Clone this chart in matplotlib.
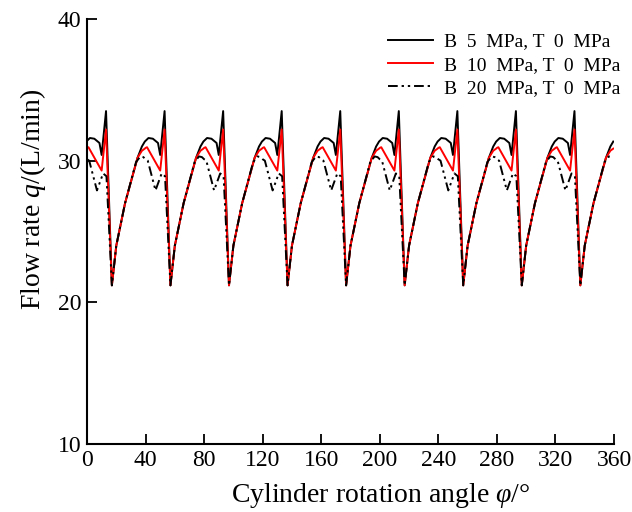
import matplotlib
matplotlib.use("Agg")
import matplotlib.pyplot as plt

plt.rcParams['font.family'] = ['Liberation Serif', 'DejaVu Serif']
plt.rcParams['mathtext.fontset'] = 'custom'
plt.rcParams['mathtext.rm'] = 'Liberation Serif'
plt.rcParams['mathtext.it'] = 'Liberation Serif:italic'

# ---- data ----
x_b5 = [0, 2, 5, 8.5, 10, 13, 17, 20, 26, 34.5, 37.5, 39.5,
        40, 42, 45, 48.5, 50, 53, 57, 60, 66, 74.5, 77.5, 79.5,
        80, 82, 85, 88.5, 90, 93, 97, 100, 106, 114.5, 117.5, 119.5,
        120, 122, 125, 128.5, 130, 133, 137, 140, 146, 154.5, 157.5, 159.5,
        160, 162, 165, 168.5, 170, 173, 177, 180, 186, 194.5, 197.5, 199.5,
        200, 202, 205, 208.5, 210, 213, 217, 220, 226, 234.5, 237.5, 239.5,
        240, 242, 245, 248.5, 250, 253, 257, 260, 266, 274.5, 277.5, 279.5,
        280, 282, 285, 288.5, 290, 293, 297, 300, 306, 314.5, 317.5, 319.5,
        320, 322, 325, 328.5, 330, 333, 337, 340, 346, 354.5, 357.5, 359.5]
y_b5 = [31.4, 31.6, 31.55, 31.25, 30.4, 33.5, 21.2, 24.0, 27.0, 30.2, 31.0, 31.35,
        31.4, 31.6, 31.55, 31.25, 30.4, 33.5, 21.2, 24.0, 27.0, 30.2, 31.0, 31.35,
        31.4, 31.6, 31.55, 31.25, 30.4, 33.5, 21.2, 24.0, 27.0, 30.2, 31.0, 31.35,
        31.4, 31.6, 31.55, 31.25, 30.4, 33.5, 21.2, 24.0, 27.0, 30.2, 31.0, 31.35,
        31.4, 31.6, 31.55, 31.25, 30.4, 33.5, 21.2, 24.0, 27.0, 30.2, 31.0, 31.35,
        31.4, 31.6, 31.55, 31.25, 30.4, 33.5, 21.2, 24.0, 27.0, 30.2, 31.0, 31.35,
        31.4, 31.6, 31.55, 31.25, 30.4, 33.5, 21.2, 24.0, 27.0, 30.2, 31.0, 31.35,
        31.4, 31.6, 31.55, 31.25, 30.4, 33.5, 21.2, 24.0, 27.0, 30.2, 31.0, 31.35,
        31.4, 31.6, 31.55, 31.25, 30.4, 33.5, 21.2, 24.0, 27.0, 30.2, 31.0, 31.35]

x_b10 = [0, 1, 10, 13, 17, 20, 26, 34.5, 37.5, 39.5,
         40, 41, 50, 53, 57, 60, 66, 74.5, 77.5, 79.5,
         80, 81, 90, 93, 97, 100, 106, 114.5, 117.5, 119.5,
         120, 121, 130, 133, 137, 140, 146, 154.5, 157.5, 159.5,
         160, 161, 170, 173, 177, 180, 186, 194.5, 197.5, 199.5,
         200, 201, 210, 213, 217, 220, 226, 234.5, 237.5, 239.5,
         240, 241, 250, 253, 257, 260, 266, 274.5, 277.5, 279.5,
         280, 281, 290, 293, 297, 300, 306, 314.5, 317.5, 319.5,
         320, 321, 330, 333, 337, 340, 346, 354.5, 357.5, 359.5]
y_b10 = [30.9, 30.95, 29.3, 32.2, 21.2, 24.0, 27.0, 30.2, 30.7, 30.85,
         30.9, 30.95, 29.3, 32.2, 21.2, 24.0, 27.0, 30.2, 30.7, 30.85,
         30.9, 30.95, 29.3, 32.2, 21.2, 24.0, 27.0, 30.2, 30.7, 30.85,
         30.9, 30.95, 29.3, 32.2, 21.2, 24.0, 27.0, 30.2, 30.7, 30.85,
         30.9, 30.95, 29.3, 32.2, 21.2, 24.0, 27.0, 30.2, 30.7, 30.85,
         30.9, 30.95, 29.3, 32.2, 21.2, 24.0, 27.0, 30.2, 30.7, 30.85,
         30.9, 30.95, 29.3, 32.2, 21.2, 24.0, 27.0, 30.2, 30.7, 30.85,
         30.9, 30.95, 29.3, 32.2, 21.2, 24.0, 27.0, 30.2, 30.7, 30.85,
         30.9, 30.95, 29.3, 32.2, 21.2, 24.0, 27.0, 30.2, 30.7, 30.85]

x_b20 = [0, 1.5, 6.8, 11, 13.3, 17, 20, 26, 33.5, 36.5, 38.5,
         40, 41.5, 46.8, 51, 53.3, 57, 60, 66, 73.5, 76.5, 78.5,
         80, 81.5, 86.8, 91, 93.3, 97, 100, 106, 113.5, 116.5, 118.5,
         120, 121.5, 126.8, 131, 133.3, 137, 140, 146, 153.5, 156.5, 158.5,
         160, 161.5, 166.8, 171, 173.3, 177, 180, 186, 193.5, 196.5, 198.5,
         200, 201.5, 206.8, 211, 213.3, 217, 220, 226, 233.5, 236.5, 238.5,
         240, 241.5, 246.8, 251, 253.3, 257, 260, 266, 273.5, 276.5, 278.5,
         280, 281.5, 286.8, 291, 293.3, 297, 300, 306, 313.5, 316.5, 318.5,
         320, 321.5, 326.8, 331, 333.3, 337, 340, 346, 353.5, 356.5, 358.5]
y_b20 = [30.1, 30.0, 27.9, 29.1, 28.9, 21.2, 24.0, 27.0, 29.9, 30.3, 30.25,
         30.1, 30.0, 27.9, 29.1, 28.9, 21.2, 24.0, 27.0, 29.9, 30.3, 30.25,
         30.1, 30.0, 27.9, 29.1, 28.9, 21.2, 24.0, 27.0, 29.9, 30.3, 30.25,
         30.1, 30.0, 27.9, 29.1, 28.9, 21.2, 24.0, 27.0, 29.9, 30.3, 30.25,
         30.1, 30.0, 27.9, 29.1, 28.9, 21.2, 24.0, 27.0, 29.9, 30.3, 30.25,
         30.1, 30.0, 27.9, 29.1, 28.9, 21.2, 24.0, 27.0, 29.9, 30.3, 30.25,
         30.1, 30.0, 27.9, 29.1, 28.9, 21.2, 24.0, 27.0, 29.9, 30.3, 30.25,
         30.1, 30.0, 27.9, 29.1, 28.9, 21.2, 24.0, 27.0, 29.9, 30.3, 30.25,
         30.1, 30.0, 27.9, 29.1, 28.9, 21.2, 24.0, 27.0, 29.9, 30.3, 30.25]

labels = ["B  5  MPa, T  0  MPa", "B  10  MPa, T  0  MPa", "B  20  MPa, T  0  MPa"]
x_ticks = [0, 40, 80, 120, 160, 200, 240, 280, 320, 360]
y_ticks = [10, 20, 30, 40]

fig = plt.figure(figsize=(6.32, 5.12), dpi=100)
ax = fig.add_axes([87/632, 1-444/512, (614-87)/632, (444-19)/512])

ax.plot(x_b5, y_b5, color='black', lw=1.4, label=labels[0])
ax.plot(x_b10, y_b10, color='#ff0000', lw=1.4, label=labels[1])
ax.plot(x_b20, y_b20, color='black', lw=1.4, dashes=(5, 2, 1.2, 2, 1.2, 2), label=labels[2])

ax.set_xlim(0, 360)
ax.set_ylim(10, 40)
ax.set_xticks(x_ticks)
ax.set_yticks(y_ticks)
ax.tick_params(direction='in', length=7, width=1.3, labelsize=17, pad=4)
for s in ['top', 'right']:
    ax.spines[s].set_visible(False)
for s in ['left', 'bottom']:
    ax.spines[s].set_linewidth(1.5)

ax.set_xlabel("Cylinder rotation angle $φ$/°", fontsize=20, labelpad=4)
ax.xaxis.set_label_coords((381-87)/527, -0.087)
ax.set_ylabel("Flow rate $q$/(L/min)", fontsize=20, labelpad=8)
ax.yaxis.set_label_coords(-0.074, (444-199)/425)

leg = ax.legend(loc='upper right', bbox_to_anchor=(1.035, 0.995), frameon=False,
                fontsize=14, handlelength=2.3, handletextpad=0.6, labelspacing=0.3,
                borderaxespad=0.2)

fig.savefig("out.png", dpi=100)
